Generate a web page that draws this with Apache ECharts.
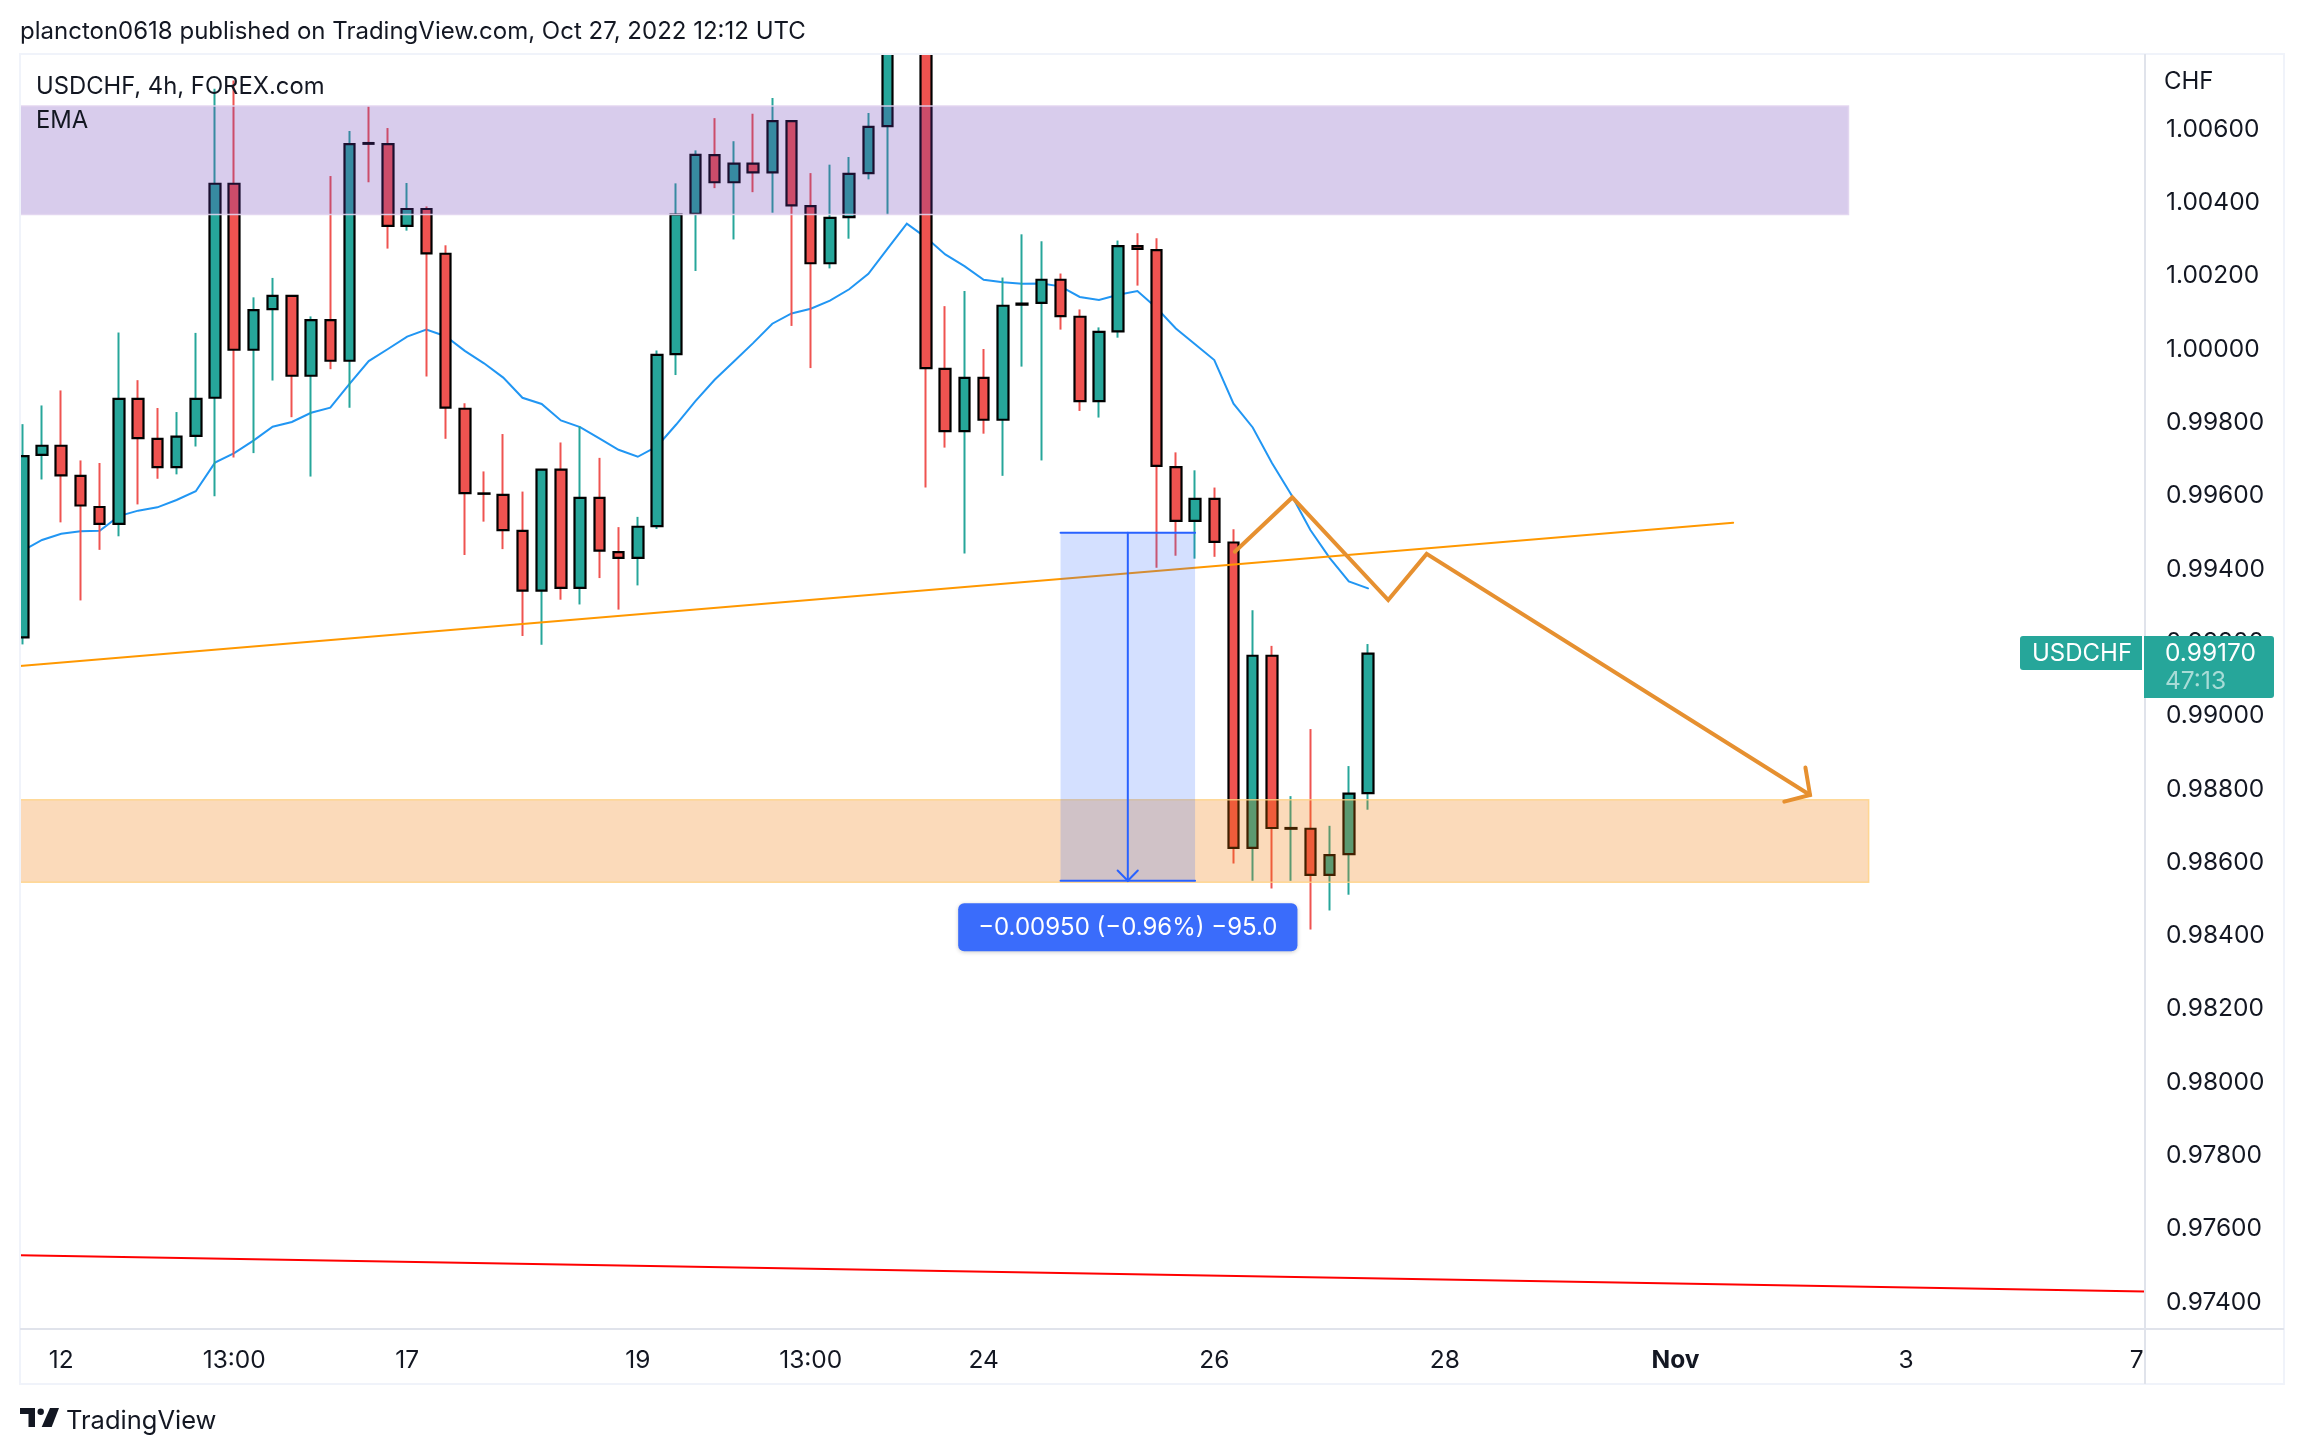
<!DOCTYPE html>
<html>
<head>
<meta charset="utf-8">
<title>USDCHF, 4h</title>
<script src="https://cdn.jsdelivr.net/npm/echarts@6/dist/echarts.min.js"></script>
<style>
  html, body { margin: 0; padding: 0; background: #fff; }
  #chart { width: 2304px; height: 1454px; }
</style>
</head>
<body>
<div id="chart"></div>
<script>
// 4h candles, index 0 is the bar cut by the left edge
var opens = [
  0.99214,0.99712,0.99737,0.99655,0.99570,0.99524,0.99865,0.99756,0.99679,0.99764,
  0.99868,1.00452,0.99999,1.00110,1.00146,0.99928,1.00080,0.99969,1.00563,1.00560,
  1.00337,1.00383,1.00261,0.99838,0.99607,0.99603,0.99505,0.99342,0.99672,0.99349,
  0.99595,0.99447,0.99431,0.99518,0.99987,1.00370,1.00530,1.00456,1.00507,1.00483,
  1.00623,1.00391,1.00235,1.00361,1.00481,1.00609,1.01200,1.01300,0.99947,0.99777,
  0.99922,0.99808,1.00122,1.00127,1.00190,1.00089,0.99859,1.00049,1.00282,1.00271,
  0.99679,0.99532,0.99592,0.99473,0.98640,0.99164,0.98692,0.98692,0.98566,0.98623,
  0.98789
];
var closes = [
  0.99709,0.99737,0.99656,0.99574,0.99524,0.99865,0.99758,0.99679,0.99762,0.99865,
  1.00452,0.99999,1.00107,1.00146,0.99928,1.00080,0.99969,1.00560,1.00561,1.00337,
  1.00383,1.00262,0.99841,0.99608,0.99606,0.99507,0.99342,0.99672,0.99349,0.99595,
  0.99451,0.99431,0.99516,0.99985,1.00368,1.00531,1.00456,1.00507,1.00483,1.00623,
  1.00393,1.00235,1.00359,1.00479,1.00607,1.01100,1.01350,0.99949,0.99777,0.99922,
  0.99808,1.00119,1.00125,1.00190,1.00091,0.99859,1.00048,1.00282,1.00274,0.99682,
  0.99532,0.99592,0.99475,0.98640,0.99164,0.98694,0.98694,0.98566,0.98620,0.98788,
  0.99170
];
var lows = [
  0.99195,0.99645,0.99528,0.99315,0.99453,0.99490,0.99577,0.99647,0.99659,0.99735,
  0.99599,0.99705,0.99717,0.99915,0.99815,0.99653,0.99946,0.99841,1.00456,1.00275,
  1.00324,0.99926,0.99756,0.99439,0.99530,0.99455,0.99218,0.99194,0.99317,0.99304,
  0.99376,0.99290,0.99356,0.99510,0.99930,1.00214,1.00440,1.00300,1.00429,1.00373,
  1.00064,0.99949,1.00221,1.00302,1.00464,1.00367,1.01100,0.99623,0.99732,0.99443,
  0.99770,0.99655,0.99953,0.99697,1.00054,0.99832,0.99814,1.00032,1.00174,0.99404,
  0.99437,0.99429,0.99434,0.98597,0.98550,0.98529,0.98550,0.98417,0.98469,0.98512,
  0.98744
];
var highs = [
  0.99796,0.99847,0.99888,0.99697,0.99690,1.00046,0.99916,0.99840,0.99829,1.00045,
  1.00711,1.00734,1.00142,1.00195,1.00146,1.00090,1.00473,1.00596,1.00663,1.00604,
  1.00454,1.00390,1.00284,0.99853,0.99667,0.99769,0.99612,0.99672,0.99746,0.99790,
  0.99704,0.99515,0.99543,0.99997,1.00453,1.00543,1.00631,1.00568,1.00643,1.00686,
  1.00623,1.00481,1.00504,1.00525,1.00645,1.01200,1.01500,1.01400,1.00118,1.00159,
  1.00001,1.00196,1.00314,1.00295,1.00207,1.00109,1.00060,1.00297,1.00317,1.00303,
  0.99719,0.99670,0.99623,0.99509,0.99288,0.99191,0.98781,0.98964,0.98700,0.98863,
  0.99196
];
var emaValues = [
  0.99451,0.99480,0.99497,0.99504,0.99505,0.99545,0.99560,0.99569,0.99589,0.99613,
  0.99691,0.99717,0.99751,0.99789,0.99802,0.99827,0.99841,0.99906,0.99968,1.00001,
  1.00035,1.00054,1.00036,0.99996,0.99962,0.99923,0.99868,0.99851,0.99806,0.99788,
  0.99757,0.99726,0.99707,0.99735,0.99795,0.99859,0.99917,0.99967,1.00017,1.00070,
  1.00098,1.00111,1.00133,1.00164,1.00206,1.00275,1.00343,1.00305,1.00259,1.00227,
  1.00190,1.00183,1.00179,1.00180,1.00172,1.00143,1.00135,1.00149,1.00159,1.00113,
  1.00057,1.00014,0.99971,0.99852,0.99787,0.99690,0.99604,0.99507,0.99431,0.99367,
  0.99348
];

// drawings, as [bar index, price]
var supportLine = [[-0.15, 0.99136], [89, 0.99527]];
var lowerLine = [[-0.15, 0.97528], [110.43, 0.97429]];
var forecastPath = [[63.07, 0.99448], [66.06, 0.99596], [71.05, 0.99316], [73.05, 0.99442], [93, 0.98784]];
var forecastHead = [[92.76, 0.98859], [93, 0.98784], [91.66, 0.98766]];
var measureTop = [[54, 0.995], [61, 0.995]];
var measureBottom = [[54, 0.9855], [61, 0.9855]];
var measureArrow = [[57.5, 0.995], [57.5, 0.9855]];
var measureHead = [[56.97, 0.98578], [57.5, 0.9855], [58.02, 0.98578]];
var measureLabel = [[57.5, 0.98423]];

var purpleZone = { x: [-0.15, 95.0], y: [1.00664, 1.00368] };
var orangeZone = { x: [-0.15, 96.05], y: [0.98771, 0.98546] };
var measureZone = { x: [54, 61], y: [0.995, 0.9855] };

// tick labels
var priceTicks = [1.006,1.004,1.002,1.0,0.998,0.996,0.994,0.992,0.99,0.988,0.986,0.984,0.982,0.98,0.978,0.976,0.974];
var timeTicks = [2, 11, 20, 32, 41, 50, 62, 74, 86, 98, 110];
var timeLabels = ['12', '13:00', '17', '19', '13:00', '24', '26', '28', 'Nov', '3', '7'];

var FONT = 'Inter, "Noto Sans", sans-serif';
var UP = '#26a69a', DOWN = '#ef5350', INK = '#131722', FRAME = '#f0f3fa', PANE = '#e0e3eb';
var ORANGE = '#e69030', BLUE = '#2962ff';

// wicks and bodies are separate so the black border stays off the wicks
var wickData = opens.map(function (o, i) { return [i, o, closes[i], lows[i], highs[i]]; });
var bodyData = opens.map(function (o, i) {
   return [i, o, closes[i], Math.min(o, closes[i]), Math.max(o, closes[i])];
});

function lineSeries(data, color, width, z) {
   return {
      type: 'line', data: data, z: z, showSymbol: false, symbol: 'none', silent: true,
      lineStyle: { color: color, width: width, cap: 'round', join: 'miter' },
      animation: false
   };
}

function zoneSeries(zone, fill, border, z) {
   return {
      type: 'line', data: [], silent: true, animation: false,
      markArea: {
         z: z, silent: true, animation: false,
         itemStyle: { color: fill, borderColor: border, borderWidth: 1.5 },
         data: [[{ xAxis: zone.x[0], yAxis: zone.y[0] }, { xAxis: zone.x[1], yAxis: zone.y[1] }]]
      }
   };
}

function text(x, y, str, size, color) {
   return {
      type: 'text', z: 200, silent: true,
      style: { x: x, y: y, text: str, font: size + 'px ' + FONT, fill: color, textVerticalAlign: 'middle' }
   };
}

function rule(x1, y1, x2, y2, color) {
   return { type: 'line', z: 150, silent: true, shape: { x1: x1, y1: y1, x2: x2, y2: y2 }, style: { stroke: color, lineWidth: 2 } };
}

function mask(x, y, w, h) {
   return { type: 'rect', z: 140, silent: true, shape: { x: x, y: y, width: w, height: h }, style: { fill: '#ffffff' } };
}

var chrome = [
   // candles are not cut at the pane edge by themselves
   mask(0, 0, 2304, 54),
   mask(0, 0, 20, 1454),

   text(20, 32, 'plancton0618 published on TradingView.com, Oct 27, 2022 12:12 UTC', 24, INK),
   text(36, 87, 'USDCHF, 4h, FOREX.com', 23.8, INK),
   text(36, 121, 'EMA', 23.8, INK),
   text(2164, 82, 'CHF', 24, INK),

   // frame and pane separators
   { type: 'rect', z: 150, silent: true, shape: { x: 20, y: 54, width: 2264, height: 1330 }, style: { fill: 'none', stroke: FRAME, lineWidth: 2 } },
   rule(2145, 54, 2145, 1384, PANE),
   rule(20, 1329, 2284, 1329, PANE),

   // last price tags
   { type: 'rect', z: 190, silent: true, shape: { x: 2020, y: 636, width: 122, height: 34, r: [3, 0, 0, 3] }, style: { fill: UP } },
   { type: 'rect', z: 190, silent: true, shape: { x: 2144, y: 636, width: 130, height: 62, r: [0, 3, 3, 0] }, style: { fill: UP } },
   text(2032, 654, 'USDCHF', 24, '#ffffff'),
   text(2165, 654, '0.99170', 24.5, '#ffffff'),
   text(2165, 682, '47:13', 24.5, '#a8dcd7'),

   // logo
   { type: 'polygon', z: 200, silent: true, shape: { points: [[20, 1408], [35, 1408], [35, 1427], [28.5, 1427], [28.5, 1414], [20, 1414]] }, style: { fill: INK } },
   { type: 'circle', z: 200, silent: true, shape: { cx: 40.7, cy: 1411.7, r: 3.2 }, style: { fill: INK } },
   { type: 'polygon', z: 200, silent: true, shape: { points: [[50, 1408], [59, 1408], [51.7, 1427], [41.7, 1427]] }, style: { fill: INK } },
   text(66, 1421, 'TradingView', 25.5, INK)
];

var option = {
   animation: false,
   backgroundColor: '#ffffff',
   textStyle: { fontFamily: FONT },
   grid: { left: 20, right: 159, top: 54, bottom: 125, containLabel: false },
   xAxis: {
      type: 'value', min: -0.146, max: 110.43,
      splitLine: { show: false }, axisLine: { show: false }, axisTick: { show: false },
      axisLabel: {
         customValues: timeTicks, color: INK, fontSize: 24.5, fontFamily: FONT, margin: 19,
         hideOverlap: false, showMinLabel: true, showMaxLabel: true,
         formatter: function (v) {
            var label = timeLabels[timeTicks.indexOf(v)];
            return label === 'Nov' ? '{b|Nov}' : label;
         },
         rich: { b: { fontWeight: 'bold', fontSize: 24.5, color: INK, fontFamily: FONT } }
      }
   },
   yAxis: {
      type: 'value', position: 'right', min: 0.97327, max: 1.00806, scale: true,
      splitLine: { show: false }, axisLine: { show: false }, axisTick: { show: false },
      axisLabel: {
         customValues: priceTicks, color: INK, fontSize: 24.5, fontFamily: FONT, margin: 21,
         padding: [5, 0, 0, 0],
         formatter: function (v) { return v.toFixed(5); }
      }
   },
   graphic: { elements: chrome },
   series: [
      lineSeries(emaValues.map(function (v, i) { return [i, v]; }), '#2196f3', 2, 2),
      {
         type: 'candlestick', data: wickData, z: 3, barWidth: 0.5, silent: true, animation: false,
         encode: { x: 0, y: [1, 2, 3, 4] },
         itemStyle: { color: UP, color0: DOWN, borderColor: UP, borderColor0: DOWN, borderWidth: 2 }
      },
      {
         type: 'candlestick', data: bodyData, z: 4, barWidth: 11, silent: true, animation: false,
         encode: { x: 0, y: [1, 2, 3, 4] },
         itemStyle: { color: UP, color0: DOWN, borderColor: '#000000', borderColor0: '#000000', borderWidth: 2.2 }
      },
      lineSeries(supportLine, '#ff9800', 2, 5),
      lineSeries(lowerLine, '#ff0000', 2, 5),
      zoneSeries(purpleZone, 'rgba(103,58,183,0.26)', 'rgba(225,212,240,0.9)', 6),
      zoneSeries(orangeZone, 'rgba(240,120,0,0.27)', 'rgba(255,210,130,0.8)', 6),
      zoneSeries(measureZone, 'rgba(41,98,255,0.2)', 'rgba(41,98,255,0)', 7),
      lineSeries(measureTop, BLUE, 2, 8),
      lineSeries(measureBottom, BLUE, 2, 8),
      lineSeries(measureArrow, BLUE, 2, 8),
      lineSeries(measureHead, BLUE, 2, 8),
      lineSeries(forecastPath, ORANGE, 4, 9),
      lineSeries(forecastHead, ORANGE, 4, 9),
      {
         type: 'scatter', data: measureLabel, z: 10, symbolSize: 0, silent: true, animation: false,
         itemStyle: { opacity: 1 },
         label: {
            show: true, position: 'inside', formatter: '\u22120.00950 (\u22120.96%) \u221295.0',
            color: '#ffffff', fontSize: 24, fontFamily: FONT, backgroundColor: '#3a6cfb',
            borderRadius: 6, padding: [13, 20, 11, 20],
            shadowColor: 'rgba(0,0,0,0.2)', shadowBlur: 4, shadowOffsetY: 1
         }
      }
   ]
};

var myChart = echarts.init(document.getElementById('chart'));
myChart.setOption(option);
</script>
</body>
</html>
